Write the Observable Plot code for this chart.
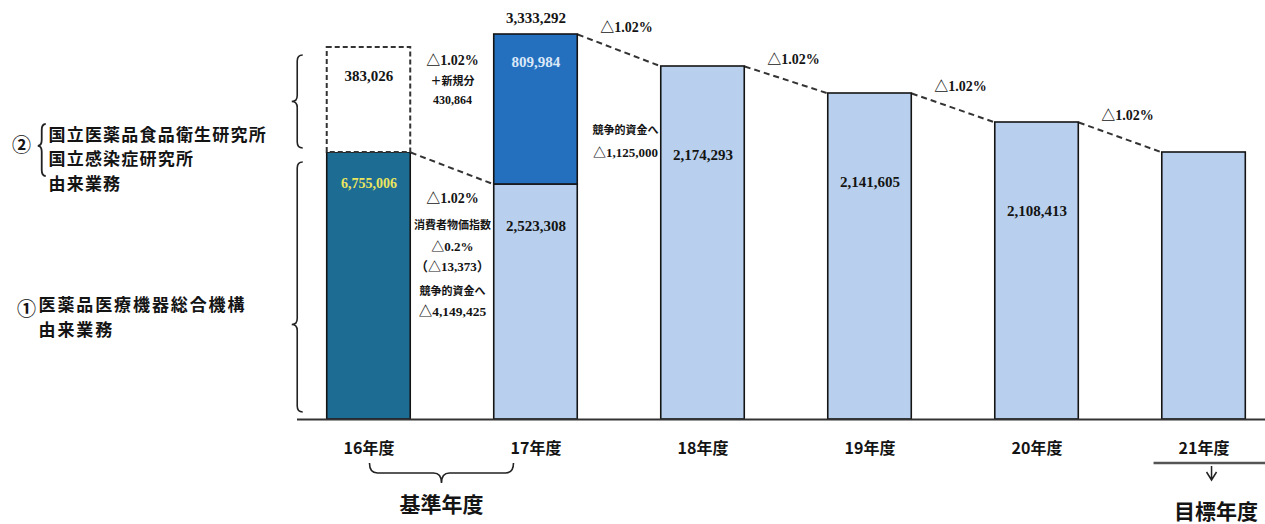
<!DOCTYPE html>
<html><head><meta charset="utf-8">
<script src="https://cdn.jsdelivr.net/npm/d3@7"></script>
<script src="https://cdn.jsdelivr.net/npm/@observablehq/plot@0.6"></script>
<style>
body{margin:0;background:#fff;}
#chart{width:1265px;height:524px;}
</style></head><body><div id="chart"></div>
<script>
// ---- data ----
const years = [16, 17, 18, 19, 20, 21];
const yearLabels = ["16年度", "17年度", "18年度", "19年度", "20年度", "21年度"];
// drawn (schematic) bar heights — the source bars are not drawn to scale
const part1Height = [267, 235, 353, 326, 297, 267];   // ① portion (whole bar for 18–21)
const part2Height = [105, 150, 0, 0, 0, 0];           // ② portion stacked on top
const part1Labels = ["6,755,006", "2,523,308", "2,174,293", "2,141,605", "2,108,413", ""];
const part2Labels = ["383,026", "809,984", "", "", "", ""];
const totalLabels = ["", "3,333,292", "", "", "", ""];
const stepLabels = ["△1.02%", "△1.02%", "△1.02%", "△1.02%"];   // 17→18 … 20→21
const note16Upper = ["△1.02%", "＋新規分", "430,864"];
const note16Lower = ["△1.02%", "消費者物価指数", "△0.2%", "（△13,373）", "競争的資金へ", "△4,149,425"];
const note17 = ["競争的資金へ", "△1,125,000"];
const leftLabel2 = ["国立医薬品食品衛生研究所", "国立感染症研究所", "由来業務"];
const leftLabel1 = ["医薬品医療機器総合機構", "由来業務"];
const baseYearLabel = "基準年度";
const targetYearLabel = "目標年度";

// ---- build table ----
const rows = years.map((year, i) => ({
  year, label: yearLabels[i],
  h1: part1Height[i], h2: part2Height[i], top: part1Height[i] + part2Height[i],
  l1: part1Labels[i], l2: part2Labels[i], lt: totalLabels[i]
}));
const links = rows.slice(0, -1).map((d, i) => {
  const n = rows[i + 1];
  return i === 0 ? {year: d.year, from: d.h1, to: n.h1} : {year: d.year, from: d.top, to: n.top};
});
const steps = rows.slice(1, -1).map((d, i) => ({...d, text: stepLabels[i]}));

// ---- styles ----
const ML = 297;
const halfWidth = 0.25;
const serif = "'Liberation Serif', 'Times New Roman', 'Noto Sans CJK JP', serif";
const gothic = "'Noto Sans CJK JP', 'Noto Sans', sans-serif";
const teal = "#1d6c94", blue = "#2470bf", light = "#b8d0ee", ink = "#141414";

const r16 = rows[0], r17 = rows[1];
const note = (row, key, text, dy, size, font, dx = 0) =>
  Plot.text([row], {x: d => d.year + 0.5, y: key, text: () => text, dx, dy,
    fontSize: size, fontWeight: "bold", fontFamily: font, fill: ink});
const frameText = (text, dx, dy, size, extra = {}) =>
  Plot.text([text], {frameAnchor: "top-left", text: d => d, dx: dx - ML, dy,
    lineAnchor: "middle", textAnchor: "middle",
    fontSize: size, fontWeight: "bold", fontFamily: gothic, fill: ink, ...extra});

function vBrace(xTip, xArm, y0, y1, t) {
  const yc = y0 + t * (y1 - y0), xm = (xTip + xArm) / 2, r = 6;
  return `M${xArm},${y0}Q${xm},${y0} ${xm},${y0 + r}L${xm},${yc - r}Q${xm},${yc} ${xTip},${yc}` +
         `Q${xm},${yc} ${xm},${yc + r}L${xm},${y1 - r}Q${xm},${y1} ${xArm},${y1}`;
}
function hBrace(x0, x1, yArm, yTip, t) {
  const xc = x0 + t * (x1 - x0), ym = (yArm + yTip) / 2, r = 8;
  return `M${x0},${yArm}Q${x0},${ym} ${x0 + r},${ym}L${xc - r},${ym}Q${xc},${ym} ${xc},${yTip}` +
         `Q${xc},${ym} ${xc + r},${ym}L${x1 - r},${ym}Q${x1},${ym} ${x1},${yArm}`;
}
function decorations(index, scales, values, dimensions) {
  const {x, y} = scales;
  const g = d3.create("svg:g").attr("fill", "none").attr("stroke", "#222").attr("stroke-width", 1.6);
  const xArm = x(r16.year - halfWidth) - 24, xTip = xArm - 11;
  g.append("path").attr("d", vBrace(xTip, xArm, y(r16.top) + 8, y(r16.h1) - 4, 0.5));
  g.append("path").attr("d", vBrace(xTip, xArm, y(r16.h1) + 10, y(0) - 7, 0.65));
  // small brace beside the ② label, in the left margin
  const sx = xTip - 254;
  g.append("path").attr("stroke-width", 1.8).attr("d", vBrace(sx, sx + 8, y(r16.h1) - 28, y(r16.h1) + 24, 0.42));
  g.append("path").attr("d", hBrace(x(years[0]) + 1, x(years[1]) - 22, y(0) + 44, y(0) + 64, 0.5));
  const last = years[years.length - 1];
  g.append("line").attr("x1", x(last) - 50).attr("x2", dimensions.width)
    .attr("y1", y(0) + 44).attr("y2", y(0) + 44).attr("stroke", "#555").attr("stroke-width", 2.5);
  const xa = x(last) + 8;
  g.append("path").attr("stroke-width", 1.5)
    .attr("d", `M${xa},${y(0) + 47}V${y(0) + 61}M${xa - 5},${y(0) + 53}L${xa},${y(0) + 61}L${xa + 5},${y(0) + 53}`);
  return g.node();
}

const chart = Plot.plot({
  width: 1265, height: 524,
  marginLeft: ML, marginRight: 0, marginTop: 0, marginBottom: 105,
  x: {type: "linear", domain: [15.572, 21.368], axis: null},
  y: {domain: [0, 419], axis: null},
  style: {background: "white", overflow: "visible"},
  marks: [
    // dashed connectors
    Plot.link(links, {x1: d => d.year + halfWidth, y1: "from", x2: d => d.year + 1 - halfWidth, y2: "to",
      stroke: "#333", strokeWidth: 2, strokeDasharray: "6,4"}),
    // ① portion / whole bars
    Plot.rect(rows, {x1: d => d.year - halfWidth, x2: d => d.year + halfWidth, y1: 0, y2: "h1",
      fill: d => d.year === years[0] ? teal : light, stroke: ink, strokeWidth: 1.6}),
    // ② portion, solid (17年度)
    Plot.rect(rows, {filter: d => d.h2 > 0 && d.year !== years[0],
      x1: d => d.year - halfWidth, x2: d => d.year + halfWidth, y1: "h1", y2: "top",
      fill: blue, stroke: ink, strokeWidth: 1.6}),
    // ② portion, dashed (16年度)
    Plot.rect(rows, {filter: d => d.year === years[0],
      x1: d => d.year - halfWidth, x2: d => d.year + halfWidth, y1: "h1", y2: "top",
      fill: "white", stroke: "#333", strokeWidth: 2, strokeDasharray: "5,3"}),
    // baseline
    Plot.ruleY([0], {stroke: "#333", strokeWidth: 2}),
    // bar value labels
    Plot.text(rows, {filter: d => d.year === 16, x: "year", y: "h1", text: "l1", dy: 31,
      fill: "#ebe55e", fontSize: 14, fontWeight: "bold", fontFamily: serif}),
    Plot.text(rows, {filter: d => d.year === 17, x: "year", y: "h1", text: "l1", dy: 42,
      fill: ink, fontSize: 15, fontWeight: "bold", fontFamily: serif}),
    Plot.text(rows, {filter: d => d.year > 17, x: "year", y: "h1", text: "l1", dy: 89,
      fill: ink, fontSize: 15, fontWeight: "bold", fontFamily: serif}),
    Plot.text(rows, {filter: d => d.year === 16, x: "year", y: "top", text: "l2", dy: 29,
      fill: ink, fontSize: 15, fontWeight: "bold", fontFamily: serif}),
    Plot.text(rows, {filter: d => d.year === 17, x: "year", y: "top", text: "l2", dy: 28,
      fill: "#dbe8f8", fontSize: 15, fontWeight: "bold", fontFamily: serif}),
    Plot.text(rows, {x: "year", y: "top", text: "lt", dy: -16,
      fill: ink, fontSize: 15, fontWeight: "bold", fontFamily: serif}),
    // step labels
    Plot.text(steps, {x: d => d.year + 0.5, y: "top", text: "text", dx: 7, dy: -7,
      fill: ink, fontSize: 14, fontWeight: "bold", fontFamily: serif}),
    // notes between 16 and 17
    note(r16, "top", note16Upper[0], 13, 14, serif),
    note(r16, "top", note16Upper[1], 34, 11, gothic),
    note(r16, "top", note16Upper[2], 53, 12, serif),
    note(r16, "h1", note16Lower[0], 46, 14, serif),
    note(r16, "h1", note16Lower[1], 73, 11, gothic),
    note(r16, "h1", note16Lower[2], 94, 13, serif),
    note(r16, "h1", note16Lower[3], 114, 13, serif),
    note(r16, "h1", note16Lower[4], 139, 11, gothic),
    note(r16, "h1", note16Lower[5], 159, 13.5, serif),
    // notes between 17 and 18
    note(r17, "top", note17[0], 96, 11, gothic, 6),
    note(r17, "top", note17[1], 118, 13, serif, 6),
    // x-axis labels
    Plot.text(rows, {x: "year", text: "label", frameAnchor: "bottom", lineAnchor: "middle", dy: 29,
      fill: ink, fontSize: 16, fontWeight: "bold", fontFamily: gothic}),
    Plot.text([baseYearLabel], {x: years[0] + 0.5, text: d => d, frameAnchor: "bottom", lineAnchor: "middle",
      dy: 86, dx: -11, fill: ink, fontSize: 21, fontWeight: "bold", fontFamily: gothic}),
    Plot.text([targetYearLabel], {x: years[years.length - 1], text: d => d, frameAnchor: "bottom", lineAnchor: "middle",
      dy: 93, dx: 12, fill: ink, fontSize: 21, fontWeight: "bold", fontFamily: gothic}),
    // left annotations
    frameText("②", 21, 145, 19),
    frameText(leftLabel2.join("\n"), 48, 157, 17, {textAnchor: "start", lineHeight: 1.46, ariaLabel: () => "left-label-2"}),
    frameText("①", 26, 309, 19),
    frameText(leftLabel1.join("\n"), 38, 315, 17, {textAnchor: "start", lineHeight: 1.46, ariaLabel: () => "left-label-1"}),
    // braces and target arrow
    decorations
  ]
});
d3.select(chart).selectAll('[aria-label="left-label-2"]').style("letter-spacing", "1.2px");
d3.select(chart).selectAll('[aria-label="left-label-1"]').style("letter-spacing", "1.9px");
document.getElementById("chart").append(chart);
</script></body></html>
